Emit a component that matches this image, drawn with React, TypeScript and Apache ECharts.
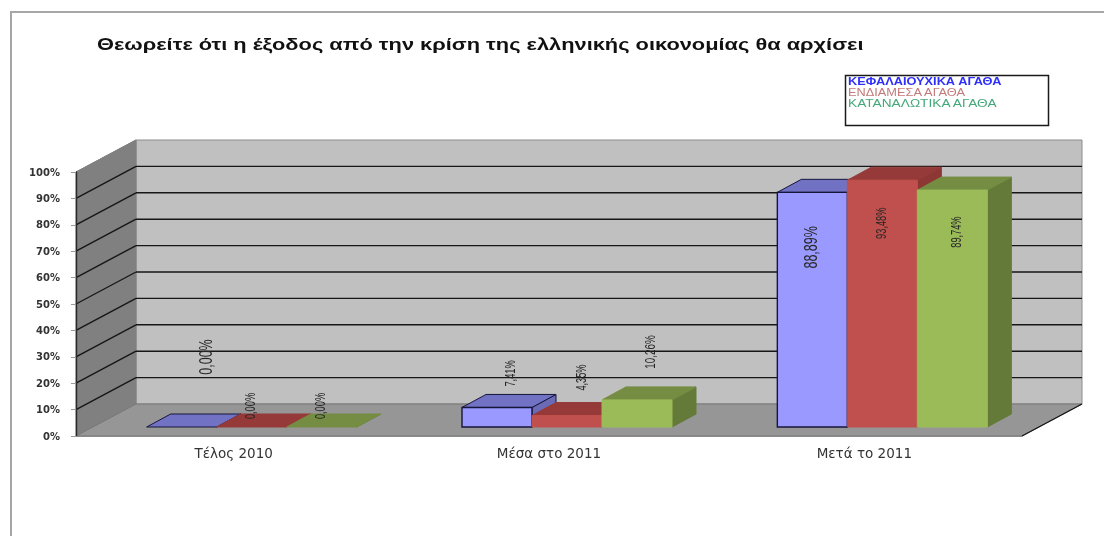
import React, { useEffect, useRef } from "react";
import * as echarts from "echarts";

const TITLE = "Θεωρείτε ότι η έξοδος από την κρίση της ελληνικής οικονομίας θα αρχίσει";
const categories = ["Τέλος 2010", "Μέσα στο 2011", "Μετά το 2011"];
const yTicks = [0, 10, 20, 30, 40, 50, 60, 70, 80, 90, 100];
const capitalGoods = [0, 7.41, 88.89];
const intermediateGoods = [0, 4.35, 93.48];
const consumerGoods = [0, 10.26, 89.74];
const NAMES = ["ΚΕΦΑΛΑΙΟΥΧΙΚΑ ΑΓΑΘΑ", "ΕΝΔΙΑΜΕΣΑ ΑΓΑΘΑ", "ΚΑΤΑΝΑΛΩΤΙΚΑ ΑΓΑΘΑ"];

// Layout and style constants (pixels), separate from the data.
const WALL_DX = 60, WALL_DY = 32;       // depth of the floor
const INSET_DX = 18, INSET_DY = 9;      // bars stand this far back on the floor
const BAR_DX = 24, BAR_DY = 13;         // depth of a bar
const BAR_WIDTH = 70;
const STYLES = [
  { front: "#9999ff", top: "#7272c4", side: "#6a6ab6", stroke: "#16163c", legend: "#2f2ffa", stretch: 1.28, weight: "bold", size: 10 },
  { front: "#c0504d", top: "#953a38", side: "#8d3735", stroke: "#c0504d", legend: "#c47a7a", stretch: 1.28, weight: "normal", size: 10 },
  { front: "#9bbb59", top: "#748d43", side: "#647a39", stroke: "#9bbb59", legend: "#45a87a", stretch: 1.37, weight: "normal", size: 10 },
];
// label placement per series and category: dx, dy from the bar's top front centre, font size
const LABEL_PLACE = [
  [[23, -70, 19], [13, -34, 14], [-2, 55, 19]],
  [[-1, -21, 14], [14, -38, 14], [-1, 43, 14]],
  [[-1, -21, 14], [13, -48, 15], [4, 42, 14]],
];
const LABEL_SQUEEZE = 0.66;
const TITLE_STRETCH = 1.364;
const SANS = '"Liberation Sans", Arial, sans-serif';
const WIDE = '"DejaVu Sans", Verdana, sans-serif';
const GRID_LINE = "#161616";

const poly = (points: number[][], fill: string, stroke?: string, lineWidth = 1) => ({
  type: "polygon",
  shape: { points },
  style: { fill, stroke: stroke || fill, lineWidth },
});

function renderWalls(params: any, api: any) {
  const cs = params.coordSys;
  const v = api.value(0);
  const y = api.coord([0, v])[1];
  const x0 = cs.x, x1 = cs.x + cs.width;
  const baseY = api.coord([0, 0])[1];
  const topY = api.coord([0, 100])[1];
  const children: any[] = [];
  if (params.dataIndex === 0) {
    children.push(poly([[x0 + WALL_DX, topY - WALL_DY], [x1 + WALL_DX, topY - WALL_DY], [x1 + WALL_DX, baseY - WALL_DY], [x0 + WALL_DX, baseY - WALL_DY]], "#c0c0c0", "#8c8c8c"));
    children.push(poly([[x0, topY], [x0 + WALL_DX, topY - WALL_DY], [x0 + WALL_DX, baseY - WALL_DY], [x0, baseY]], "#808080", "#808080"));
    children.push(poly([[x0, baseY], [x0 + WALL_DX, baseY - WALL_DY], [x1 + WALL_DX, baseY - WALL_DY], [x1, baseY]], "#969696", "#777777"));
    children.push({ type: "line", shape: { x1, y1: baseY, x2: x1 + WALL_DX, y2: baseY - WALL_DY }, style: { stroke: GRID_LINE, lineWidth: 1.4 } });
  } else if (v < 100) {
    children.push({ type: "line", shape: { x1: x0, y1: y, x2: x0 + WALL_DX, y2: y - WALL_DY }, style: { stroke: GRID_LINE, lineWidth: 1.4 } });
    children.push({ type: "line", shape: { x1: x0 + WALL_DX, y1: y - WALL_DY, x2: x1 + WALL_DX, y2: y - WALL_DY }, style: { stroke: GRID_LINE, lineWidth: 1.4 } });
  } else {
    children.push({ type: "line", shape: { x1: x0, y1: y, x2: x0 + WALL_DX, y2: y - WALL_DY }, style: { stroke: "#808080", lineWidth: 1 } });
  }
  return { type: "group", children };
}

const makeBarRenderer = (s: number) => (_params: any, api: any) => {
  const cat = api.value(0);
  const val = api.value(1);
  const st = STYLES[s];
  const centre = api.coord([cat, 0])[0] + INSET_DX + (s - 1) * BAR_WIDTH;
  const bottom = api.coord([cat, 0])[1] - INSET_DY;
  const top = bottom - (api.coord([cat, 0])[1] - api.coord([cat, val])[1]);
  const l = centre - BAR_WIDTH / 2, r = centre + BAR_WIDTH / 2;
  const [ldx, ldy, size] = LABEL_PLACE[s][cat];
  const children: any[] = [];
  children.push(poly([[r, bottom], [r + BAR_DX, bottom - BAR_DY], [r + BAR_DX, top - BAR_DY], [r, top]], st.side, s === 0 ? st.stroke : st.side));
  children.push(poly([[l, top], [l + BAR_DX, top - BAR_DY], [r + BAR_DX, top - BAR_DY], [r, top]], st.top, s === 0 ? st.stroke : st.top));
  if (val > 0) children.push(poly([[l, bottom], [l, top], [r, top], [r, bottom]], st.front, st.stroke, s === 0 ? 1.4 : 1));
  children.push({
    type: "text",
    x: centre + ldx,
    y: top + ldy,
    rotation: Math.PI / 2,
    scaleX: LABEL_SQUEEZE,
    z2: 50,
    style: {
      text: val.toFixed(2).replace(".", ",") + "%",
      fill: "#262626",
      font: `${size}px ${SANS}`,
      textAlign: "center",
      textVerticalAlign: "middle",
      verticalAlign: "middle",
    },
  });
  return { type: "group", children };
};

const seriesValues = [capitalGoods, intermediateGoods, consumerGoods];

export default function App() {
  const ref = useRef<HTMLDivElement>(null);
  useEffect(() => {
    if (!ref.current) return;
    const chart = echarts.init(ref.current, undefined, { renderer: "svg" });
    chart.setOption({
      animation: false,
      backgroundColor: "#ffffff",
      graphic: [
        { type: "polyline", shape: { points: [[11, 536], [11, 12], [1104, 12]] }, style: { fill: "none", stroke: "#a6a6a6", lineWidth: 2 } },
        { type: "rect", shape: { x: 845.5, y: 75.5, width: 203, height: 50 }, style: { fill: "#ffffff", stroke: "#1a1a1a", lineWidth: 1.5 } },
        {
          type: "text",
          x: 97,
          y: 45,
          scaleX: TITLE_STRETCH,
          style: { text: TITLE, fill: "#111111", font: `bold 16px ${SANS}`, textAlign: "left", textVerticalAlign: "middle", verticalAlign: "middle" },
        },
        ...NAMES.map((name, i) => ({
          type: "text",
          x: 848,
          y: 82 + i * 11,
          scaleX: STYLES[i].stretch,
          style: {
            text: name,
            fill: STYLES[i].legend,
            font: `${STYLES[i].weight} ${STYLES[i].size}px ${SANS}`,
            textAlign: "left",
            textVerticalAlign: "middle",
            verticalAlign: "middle",
          },
        })),
      ],
      grid: { left: 76, top: 172, width: 946, height: 264 },
      xAxis: {
        type: "category",
        data: categories,
        z: 10,
        axisLine: { lineStyle: { color: "#8a8a8a", width: 1 } },
        axisTick: { length: 3, lineStyle: { color: "#8a8a8a" } },
        axisLabel: { margin: 10, color: "#333333", fontFamily: WIDE, fontSize: 13.5 },
      },
      yAxis: {
        type: "value",
        min: 0,
        max: 100,
        interval: 10,
        z: 10,
        axisLine: { show: true, lineStyle: { color: "#2a2a2a", width: 1.4 } },
        axisTick: { show: true, length: 5, lineStyle: { color: "#9a9a9a" } },
        axisLabel: { margin: 16, color: "#333333", fontFamily: WIDE, fontSize: 10, fontWeight: "bold", formatter: "{value}%" },
        splitLine: { show: false },
      },
      series: [
        {
          type: "custom",
          name: "walls",
          coordinateSystem: "cartesian2d",
          clip: false,
          silent: true,
          data: yTicks.map((v) => [v]),
          encode: { y: 0 },
          renderItem: renderWalls,
          z: 1,
        },
        ...NAMES.map((name, s) => ({
          type: "custom",
          name,
          coordinateSystem: "cartesian2d",
          clip: false,
          silent: true,
          itemStyle: { color: STYLES[s].front },
          data: seriesValues[s].map((v, i) => [i, v]),
          encode: { x: 0, y: 1 },
          renderItem: makeBarRenderer(s),
          z: 2,
        })),
      ],
    });
    return () => chart.dispose();
  }, []);
  return <div ref={ref} style={{ position: "absolute", left: 0, top: 0, width: 1104, height: 536, filter: "blur(0.45px)" }} />;
}
